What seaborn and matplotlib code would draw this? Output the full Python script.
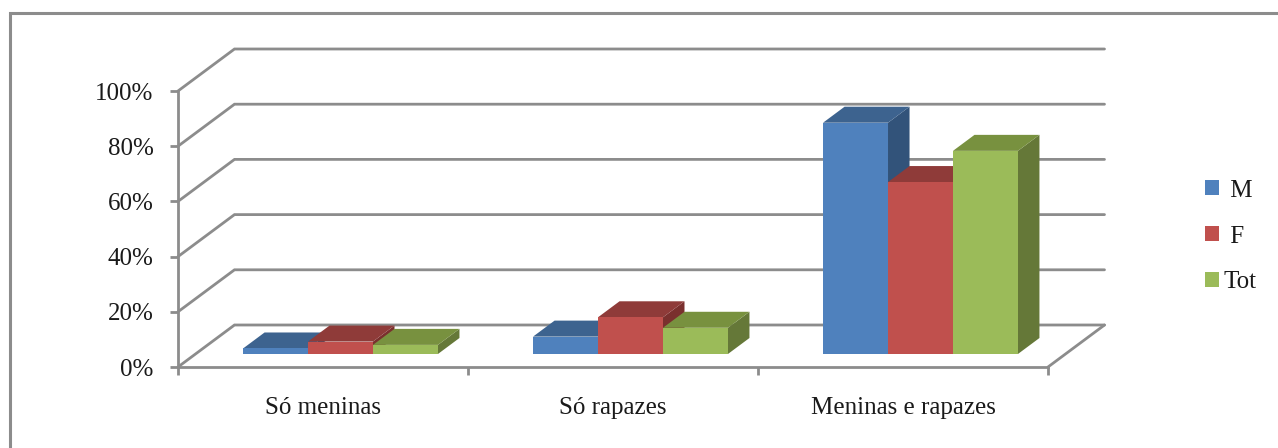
import matplotlib
matplotlib.use("Agg")
import matplotlib.pyplot as plt
from matplotlib.lines import Line2D
from matplotlib.patches import Polygon
from matplotlib.transforms import Affine2D
import pandas as pd
import seaborn as sns

# Chart values, in percent
categories = ["Só meninas", "Só rapazes", "Meninas e rapazes"]
series_names = ["M", "F", "Tot"]
values_m = [2.0, 6.3, 83.8]
values_f = [4.5, 13.3, 62.3]
values_tot = [3.3, 9.5, 73.6]
y_ticks = [0, 20, 40, 60, 80, 100]

front_colors = ["#4F81BD", "#C0504D", "#9BBB59"]
top_colors = ["#3D638F", "#8F3B39", "#78913F"]
side_colors = ["#32537A", "#7A302E", "#657838"]
frame_grey = "#8C8C8C"
text_color = "#1A1A1A"
font_size = 18

W, H, DPI = 1278, 448, 100

sns.set_theme(style="white")
plt.rcParams["font.family"] = ["Liberation Serif", "DejaVu Serif"]

fig = plt.figure(figsize=(W / DPI, H / DPI), dpi=DPI, facecolor="white")
# The axes box is the front plane of the 3D chart
ax = fig.add_axes([178 / W, 1 - 367 / H, 870 / W, 276 / H])

table = pd.DataFrame({
    "categoria": categories * 3,
    "serie": [s for s in series_names for _ in categories],
    "valor": values_m + values_f + values_tot,
})
sns.barplot(data=table, x="categoria", y="valor", hue="serie",
            order=categories, hue_order=series_names,
            palette=front_colors, saturation=1, width=0.672, gap=0,
            linewidth=0, ax=ax)
ax.set_xlim(-0.5, 2.5)
ax.set_ylim(0, 100)

# Oblique projection: depth 0 is the front plane, depth 1 the back wall
DEPTH_X = 56.5 * 3 / 870
DEPTH_Y = 42 * 100 / 276


def project(x, y, depth):
    return x + depth * DEPTH_X, y + depth * DEPTH_Y


# Back wall and left wall gridlines, floor edges
for tick in y_ticks:
    x_a, y_a = project(-0.5, tick, 0)
    x_b, y_b = project(-0.5, tick, 1)
    x_c, y_c = project(2.5, tick, 1)
    ax.plot([x_a, x_b, x_c], [y_a, y_b, y_c], color=frame_grey, lw=2,
            clip_on=False, zorder=1, solid_joinstyle="miter")
x_a, y_a = project(2.5, 0, 0)
x_b, y_b = project(2.5, 0, 1)
ax.plot([x_a, x_b], [y_a, y_b], color=frame_grey, lw=2, clip_on=False, zorder=1)

# Bars sit between two depths on the floor; faces follow each bar's value
BAR_FRONT = 13 / 42
BAR_BACK = 29 / 42
shift = Affine2D().translate(*project(0, 0, BAR_FRONT))
for s, container in enumerate(ax.containers):
    base_z = 3 + s
    for bar in container:
        x0, x1 = bar.get_x(), bar.get_x() + bar.get_width()
        top = bar.get_height()
        bar.set_transform(shift + ax.transData)
        bar.set_clip_on(False)
        bar.set_zorder(base_z + 0.2)
        side = [project(x1, 0, BAR_FRONT), project(x1, top, BAR_FRONT),
                project(x1, top, BAR_BACK), project(x1, 0, BAR_BACK)]
        roof = [project(x0, top, BAR_FRONT), project(x1, top, BAR_FRONT),
                project(x1, top, BAR_BACK), project(x0, top, BAR_BACK)]
        ax.add_patch(Polygon(side, closed=True, fc=side_colors[s], ec="none",
                             clip_on=False, zorder=base_z))
        ax.add_patch(Polygon(roof, closed=True, fc=top_colors[s], ec="none",
                             clip_on=False, zorder=base_z + 0.1))

# Axes and tick labels
sns.despine(ax=ax, top=True, right=True)
for side_name in ("left", "bottom"):
    ax.spines[side_name].set_color(frame_grey)
    ax.spines[side_name].set_linewidth(2)
    ax.spines[side_name].set_zorder(2)
ax.set_yticks(y_ticks, [f"{t}%" for t in y_ticks])
ax.set_xticks([-0.5, 0.5, 1.5, 2.5], minor=True)
ax.set_xticks([0, 1, 2], categories)
ax.set_xlabel("")
ax.set_ylabel("")
ax.tick_params(axis="y", which="major", direction="out", length=5.5, width=2,
               color=frame_grey, labelsize=font_size, labelcolor=text_color, pad=12, left=True)
ax.tick_params(axis="x", which="major", length=0, labelsize=font_size,
               labelcolor=text_color, pad=21.5, bottom=False)
ax.tick_params(axis="x", which="minor", direction="out", length=5.5, width=2,
               color=frame_grey, bottom=True)

# Legend, with the short names padded so they sit centred over "Tot"
handles, _ = ax.get_legend_handles_labels()
ax.legend(handles, [" M", " F", "Tot"], loc="center left",
          bbox_to_anchor=(1205 / W, 1 - 236.5 / H), bbox_transform=fig.transFigure,
          frameon=False, fontsize=font_size, labelcolor=text_color,
          handlelength=0.56, handleheight=0.56, handletextpad=0.2,
          labelspacing=0.96, borderpad=0, borderaxespad=0)

# Outer chart frame, open on the right and at the bottom
fig.add_artist(Line2D([10 / W, 10 / W, 1], [0, 1 - 13 / H, 1 - 13 / H],
                      color=frame_grey, lw=2.2, solid_joinstyle="miter"))

fig.savefig("out.png", dpi=DPI)
